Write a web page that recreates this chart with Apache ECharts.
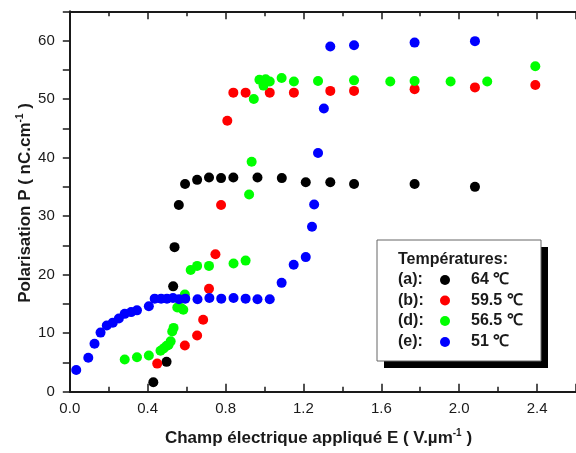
<!DOCTYPE html>
<html>
<head>
<meta charset="utf-8">
<script src="https://cdn.jsdelivr.net/npm/echarts@6/dist/echarts.min.js"></script>
<style>
  html, body { margin: 0; padding: 0; background: #fff; }
  #chart { width: 576px; height: 453px; }
</style>
</head>
<body>
<div id="chart"></div>
<script>
// Polarisation P (nC.cm-1) versus applied field E (V.µm-1), one series per temperature
const seriesNames = ['(a): 64 ℃', '(b): 59.5 ℃', '(d): 56.5 ℃', '(e): 51 ℃'];
const seriesColors = ['#000000', '#ff0000', '#00ff00', '#0000ff'];

const pointsA = [
  [0.429, 1.6], [0.497, 5.1], [0.531, 18.0], [0.538, 24.7], [0.560, 31.9],
  [0.592, 35.5], [0.654, 36.2], [0.715, 36.6], [0.777, 36.5], [0.840, 36.6],
  [0.964, 36.6], [1.089, 36.5], [1.212, 35.8], [1.338, 35.8], [1.460, 35.5],
  [1.771, 35.5], [2.081, 35.0]
];
const pointsB = [
  [0.449, 4.8], [0.591, 7.9], [0.654, 9.6], [0.685, 12.3], [0.715, 17.6],
  [0.748, 23.5], [0.777, 31.9], [0.809, 46.3], [0.840, 51.1], [0.903, 51.1],
  [1.027, 51.1], [1.151, 51.1], [1.338, 51.4], [1.460, 51.4], [1.771, 51.7],
  [2.081, 52.0], [2.391, 52.4]
];
const pointsD = [
  [0.282, 5.5], [0.345, 5.9], [0.406, 6.2], [0.466, 7.0], [0.482, 7.4],
  [0.496, 7.8], [0.507, 8.0], [0.518, 8.6], [0.526, 10.3], [0.533, 10.9],
  [0.552, 14.4], [0.571, 14.3], [0.583, 14.0], [0.591, 16.6], [0.621, 20.8],
  [0.654, 21.5], [0.715, 21.5], [0.841, 21.9], [0.903, 22.4], [0.921, 33.7],
  [0.934, 39.3], [0.945, 50.0], [0.974, 53.3], [0.995, 52.3], [1.006, 53.4],
  [1.027, 53.0], [1.088, 53.6], [1.151, 53.0], [1.275, 53.1], [1.460, 53.2],
  [1.646, 53.0], [1.771, 53.1], [1.956, 53.0], [2.144, 53.0], [2.391, 55.6]
];
const pointsE = [
  [0.033, 3.7], [0.095, 5.8], [0.127, 8.2], [0.158, 10.1], [0.190, 11.3],
  [0.221, 11.8], [0.252, 12.5], [0.282, 13.3], [0.315, 13.6], [0.345, 13.9],
  [0.406, 14.6], [0.436, 15.9], [0.469, 15.9], [0.499, 15.9], [0.530, 16.0],
  [0.561, 15.8], [0.593, 15.9], [0.656, 15.8], [0.717, 16.0], [0.778, 15.9],
  [0.841, 16.0], [0.903, 15.9], [0.964, 15.8], [1.027, 15.8], [1.088, 18.6],
  [1.150, 21.7], [1.212, 23.0], [1.244, 28.2], [1.255, 32.0], [1.275, 40.8],
  [1.305, 48.4], [1.338, 59.0], [1.460, 59.2], [1.771, 59.65], [2.081, 59.9]
];

const legendTitle = 'Températures:';
const legendKeys = ['(a):', '(b):', '(d):', '(e):'];
const legendTemps = ['64 ℃', '59.5 ℃', '56.5 ℃', '51 ℃'];

const xTitle = ['Champ électrique appliqué E ( V.µm', '-1', ' )'];
const yTitle = ['Polarisation P ( nC.cm', '-1', ' )'];

const FONT = '"Liberation Sans", Arial, sans-serif';
const INK = '#1a1a1a';

const chart = echarts.init(document.getElementById('chart'), null, { renderer: 'canvas' });

const allPoints = [pointsA, pointsB, pointsD, pointsE];
const series = allPoints.map((pts, i) => ({
  name: seriesNames[i],
  type: 'scatter',
  data: pts,
  symbol: 'circle',
  symbolSize: 10,
  itemStyle: { color: seriesColors[i], opacity: 1 },
  emphasis: { disabled: true },
  z: 2 + i
}));

const titleRich = {
  t: { fontFamily: FONT, fontWeight: 'bold', fontSize: 17, fill: INK, lineHeight: 20 },
  s: { fontFamily: FONT, fontWeight: 'bold', fontSize: 10, fill: INK, verticalAlign: 'top', lineHeight: 20 }
};

// legend panel, drawn as a framed box with a drop shadow
const boxX = 377, boxY = 240, boxW = 164, boxH = 121;
const legendEls = [
  { type: 'rect', shape: { x: boxX + 7, y: boxY + 7, width: boxW, height: boxH },
    style: { fill: '#000' }, z: 100 },
  { type: 'rect', shape: { x: boxX, y: boxY, width: boxW, height: boxH },
    style: { fill: '#fff', stroke: '#666', lineWidth: 1 }, z: 101 },
  { type: 'text', x: 398, y: 259.5, z: 102,
    style: { text: legendTitle, font: 'bold 16px ' + FONT, fill: INK, align: 'left', verticalAlign: 'middle' } }
];
const rowY = [280, 300.5, 321, 342];
legendKeys.forEach((k, i) => {
  legendEls.push({ type: 'text', x: 398, y: rowY[i], z: 102,
    style: { text: k, font: 'bold 16px ' + FONT, fill: INK, align: 'left', verticalAlign: 'middle' } });
  legendEls.push({ type: 'circle', shape: { cx: 445, cy: rowY[i], r: 5 }, z: 102,
    style: { fill: seriesColors[i] } });
  legendEls.push({ type: 'text', x: 471, y: rowY[i], z: 102,
    style: { text: legendTemps[i], font: 'bold 16px ' + FONT, fill: INK, align: 'left', verticalAlign: 'middle' } });
});

const option = {
  animation: false,
  backgroundColor: '#ffffff',
  grid: { left: 69.8, top: 11.3, bottom: 61.3, right: -30.05, containLabel: false },
  xAxis: [
    {
      type: 'value', position: 'bottom', min: 0, max: 2.6, interval: 0.4,
      axisLine: { show: true, onZero: false, lineStyle: { color: INK, width: 2 } },
      axisTick: { show: true, inside: true, length: 8, lineStyle: { color: INK, width: 1.5 } },
      minorTick: { show: true, splitNumber: 2, length: 5, lineStyle: { color: INK, width: 1.5 } },
      splitLine: { show: false }, minorSplitLine: { show: false },
      axisLabel: { show: true, margin: 10, fontFamily: FONT, fontSize: 15, color: INK,
        showMaxLabel: false, formatter: v => v.toFixed(1) }
    },
    {
      type: 'value', position: 'top', min: 0, max: 2.6, interval: 0.4,
      axisLine: { show: true, onZero: false, lineStyle: { color: INK, width: 2 } },
      axisTick: { show: true, inside: true, length: 8, lineStyle: { color: INK, width: 1.5 } },
      minorTick: { show: true, splitNumber: 2, length: 5, lineStyle: { color: INK, width: 1.5 } },
      splitLine: { show: false }, minorSplitLine: { show: false },
      axisLabel: { show: false }
    }
  ],
  yAxis: {
    type: 'value', min: 0, max: 65, interval: 5,
    axisLine: { show: true, onZero: false, lineStyle: { color: INK, width: 2 } },
    axisTick: { show: true, inside: false, length: 7, lineStyle: { color: INK, width: 1.5 } },
    splitLine: { show: false },
    axisLabel: { margin: 15, fontFamily: FONT, fontSize: 15, color: INK,
      formatter: v => (v % 10 === 0 ? String(v) : '') }
  },
  series: series,
  graphic: [
    { type: 'text', x: 318.5, y: 438, z: 50,
      style: { text: '{t|' + xTitle[0] + '}{s|' + xTitle[1] + '}{t|' + xTitle[2] + '}',
        rich: titleRich, align: 'center', verticalAlign: 'middle' } },
    { type: 'text', x: 25, y: 203, rotation: Math.PI / 2, z: 50,
      style: { text: '{t|' + yTitle[0] + '}{s|' + yTitle[1] + '}{t|' + yTitle[2] + '}',
        rich: titleRich, align: 'center', verticalAlign: 'middle' } }
  ].concat(legendEls)
};

chart.setOption(option);
</script>
</body>
</html>
